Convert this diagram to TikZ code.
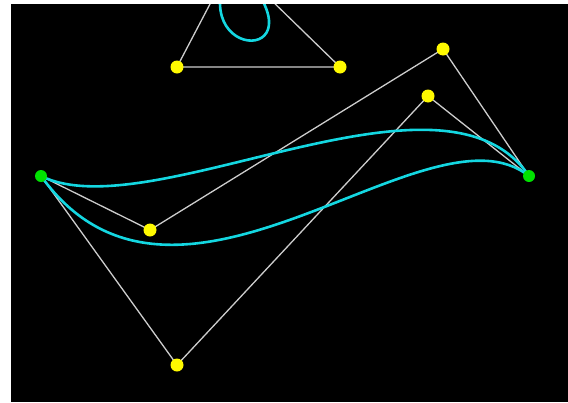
\documentclass[tikz,border=0pt]{standalone}
\definecolor{ctrlgray}{RGB}{205,205,205}
\definecolor{curvecyan}{RGB}{20,215,225}
\definecolor{dotyellow}{RGB}{255,250,0}
\definecolor{dotgreen}{RGB}{0,225,0}
\begin{document}
\begin{tikzpicture}[x=1pt,y=-1pt,
  ctrl/.style={draw=ctrlgray, line width=1.3pt},
  curve/.style={draw=curvecyan, line width=2.6pt},
  cp/.style={circle, fill=dotyellow, inner sep=0pt, minimum size=13pt},
  ep/.style={circle, fill=dotgreen, inner sep=0pt, minimum size=12pt}]
\useasboundingbox (0,0) rectangle (568,402);
\fill[white] (0,0) rectangle (568,402);
\fill[black] (11,4) rectangle (568,402);
\begin{scope}
\clip (11,4) rectangle (568,402);
% loop curve (partly off the top)
\coordinate (t0) at (231.5,-37);
\coordinate (t1) at (177,67);
\coordinate (t2) at (340,67);
\coordinate (t3) at (230,-40);
% first curve
\coordinate (a0) at (41,176);
\coordinate (a1) at (150,230);
\coordinate (a2) at (443,49);
\coordinate (a3) at (529,176);
% second curve
\coordinate (b1) at (177,365);
\coordinate (b2) at (428,96);
% control polygons
\draw[ctrl] (t0) -- (t1) -- (t2) -- (t3);
\draw[ctrl] (a0) -- (a1) -- (a2) -- (a3);
\draw[ctrl] (a0) -- (b1) -- (b2) -- (a3);
% curves
\draw[curve] (t0) .. controls (t1) and (t2) .. (t3);
\draw[curve] (a0) .. controls (a1) and (a2) .. (a3);
\draw[curve] (a0) .. controls (b1) and (b2) .. (a3);
% points
\node[cp] (nt1) at (t1) {};
\node[cp] (nt2) at (t2) {};
\node[cp] (na1) at (a1) {};
\node[cp] (na2) at (a2) {};
\node[cp] (nb1) at (b1) {};
\node[cp] (nb2) at (b2) {};
\node[ep] (na0) at (a0) {};
\node[ep] (na3) at (a3) {};
\end{scope}
\end{tikzpicture}
\end{document}
